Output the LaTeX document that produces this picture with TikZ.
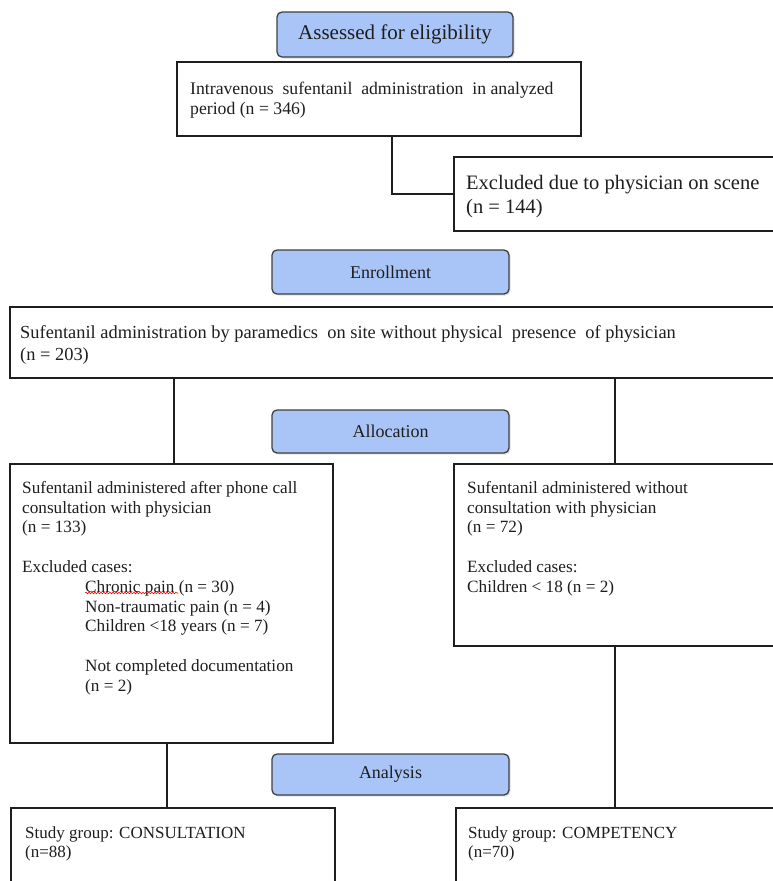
\documentclass[tikz,border=0pt]{standalone}
\usepackage{fontspec}
\setmainfont{Liberation Serif}
\usetikzlibrary{fit,shadows,decorations.pathmorphing}
\definecolor{headfill}{RGB}{169,197,247}
\definecolor{ink}{RGB}{30,30,30}
\tikzset{
  box/.style={draw=ink, line width=1.3pt, fill=white, inner sep=0pt},
  head/.style={draw=ink!85, line width=1.3pt, fill=headfill, rounded corners=5pt, inner sep=0pt,
    drop shadow={opacity=0.25, shadow xshift=1.5pt, shadow yshift=-1.5pt},
    font=\fontsize{18}{20}\selectfont, text=ink},
  txt/.style={anchor=north west, inner sep=0pt, align=left, text=ink},
  link/.style={draw=ink, line width=1.3pt},
}
\begin{document}
\begin{tikzpicture}[x=1pt,y=-1pt]
\clip (0,0) rectangle (773,881);
\fill[white] (0,0) rectangle (773,881);
% headings
\node[head, fit={(277,12) (513,57)}] (h1) {};
\node[font=\fontsize{21}{24}\selectfont, text=ink] (h1t) at (h1.center) {Assessed for eligibility};
\node[head, fit={(272,250) (509,294)}] (h2) {};
\node[font=\fontsize{18}{20}\selectfont, text=ink] (h2t) at (h2.center) {Enrollment};
\node[head, fit={(272,410) (509,453)}] (h3) {};
\node[font=\fontsize{18}{20}\selectfont, text=ink] (h3t) at (h3.center) {Allocation};
\node[head, fit={(272,754) (509,795)}] (h4) {};
\node[font=\fontsize{18}{20}\selectfont, text=ink] (h4t) at (h4.center) {Analysis};
% boxes
\node[box, fit={(177,62) (581,136)}] (b1) {};
\node[box, fit={(454,157) (780,231)}] (exc) {};
\node[box, fit={(10,307) (780,378)}] (b2) {};
\node[box, fit={(10,464) (333,743)}] (lb) {};
\node[box, fit={(454,464) (780,646)}] (rb) {};
\node[box, fit={(11,808) (335,900)}] (bl) {};
\node[box, fit={(456,808) (780,900)}] (br) {};
% connectors
\draw[link] (b1.south -| 392,0) |- (exc.west);
\draw[link] (b2.south -| 174,0) -- (lb.north -| 174,0);
\draw[link] (b2.south -| 615,0) -- (rb.north -| 615,0);
\draw[link] (lb.south -| 167,0) -- (bl.north -| 167,0);
\draw[link] (rb.south -| 615,0) -- (br.north -| 615,0);
% texts
\node[txt, font=\fontsize{17.7}{20}\selectfont] (t1) at (190,82)
  {Intravenous\ \ sufentanil\ \ administration\ \ in\ analyzed\\period (n = 346)};
\node[txt, font=\fontsize{20.5}{24}\selectfont] (t2) at (466,175)
  {Excluded due to physician on scene\\(n = 144)};
\node[txt, font=\fontsize{18.4}{22}\selectfont] (t3) at (20,325)
  {Sufentanil administration by paramedics\ \ on site without physical\ \ presence\ \ of physician\\(n = 203)};
\node[txt, font=\fontsize{17.2}{19.8}\selectfont] (t4) at (22,481)
  {Sufentanil administered after phone call\\
   consultation with physician\\
   (n = 133)\\[19.8pt]
   Excluded cases:\\
   \hspace*{63pt}Chronic pain (n = 30)\\
   \hspace*{63pt}Non-traumatic pain (n = 4)\\
   \hspace*{63pt}Children <18 years (n = 7)\\[19.8pt]
   \hspace*{63pt}Not completed documentation\\
   \hspace*{63pt}(n = 2)};
\draw[red, line width=0.6pt, decorate, decoration={snake, segment length=3pt, amplitude=0.8pt}] (85,593) -- (178,593);
\node[txt, font=\fontsize{17.2}{19.8}\selectfont] (t5) at (467,481)
  {Sufentanil administered without\\
   consultation with physician\\
   (n = 72)\\[19.8pt]
   Excluded cases:\\
   Children < 18 (n = 2)};
\node[txt, font=\fontsize{17}{19}\selectfont] (t6) at (25,826)
  {Study group: CONSULTATION\\(n=88)};
\node[txt, font=\fontsize{17}{19}\selectfont] (t7) at (468,826)
  {Study group: COMPETENCY\\(n=70)};
\end{tikzpicture}
\end{document}
